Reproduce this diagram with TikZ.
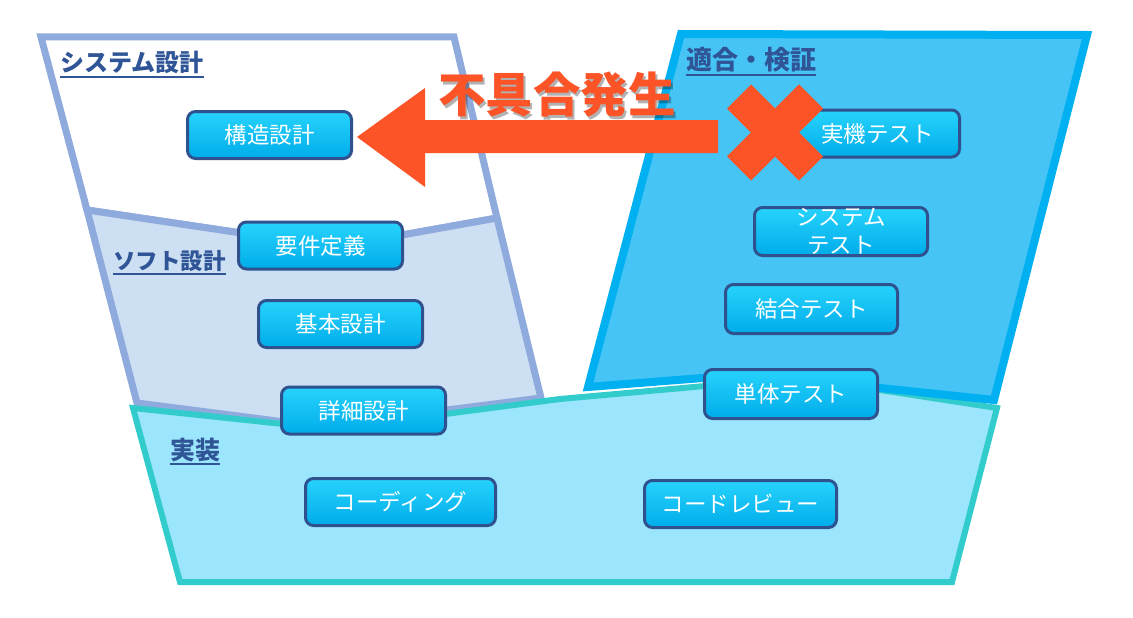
\documentclass[tikz,border=0pt]{standalone}
\usepackage{fontspec}
\setmainfont{Noto Sans CJK JP}
\usetikzlibrary{calc, positioning}

\definecolor{panelline}{HTML}{8FAADC}
\definecolor{softfill}{HTML}{CDE0F3}
\definecolor{implline}{HTML}{33CCCC}
\definecolor{implfill}{HTML}{9BE5FD}
\definecolor{testline}{HTML}{00B0F0}
\definecolor{testfill}{HTML}{45C4F5}
\definecolor{boxline}{HTML}{2F528F}
\definecolor{boxtop}{HTML}{27D3FC}
\definecolor{boxbottom}{HTML}{00ACE9}
\definecolor{labelblue}{HTML}{2F5597}
\definecolor{alert}{HTML}{FC5427}

\begin{document}
\begin{tikzpicture}[x=1pt, y=-1pt,
  stage/.style={draw=boxline, line width=3pt, rounded corners=8pt,
    top color=boxtop, bottom color=boxbottom, text=white,
    font=\fontsize{22.5}{28}\selectfont, inner sep=0pt, align=center,
    minimum width=164pt, minimum height=47pt},
  phasename/.style={text=labelblue, inner sep=0pt, anchor=base west},
  underbar/.style={labelblue, line width=1.6pt},
]
\useasboundingbox (0,0) rectangle (1133,618);

% System design area
\filldraw[draw=panelline, fill=white, line width=7pt]
  (41,37) -- (454,37) -- (497,218) -- (335,247) -- (87,210) -- cycle;
% Software design area
\filldraw[draw=panelline, fill=softfill, line width=7pt]
  (87,210) -- (335,247) -- (497,218) -- (541,398) -- (447,410) -- (285,422) -- (137,403) -- cycle;
% Implementation area
\filldraw[draw=implline, fill=implfill, line width=6pt]
  (133,408) -- (330,429) -- (560,399) -- (705,386) -- (880,390) -- (997,408) -- (952,582) -- (180,582) -- cycle;
% Test area
\filldraw[draw=testline, fill=testfill, line width=8pt]
  (681,34) -- (1087,35) -- (994,400) -- (880,388) -- (703,378) -- (588,387) -- cycle;

% Area names
\node[phasename, font=\fontsize{24}{24}\selectfont\bfseries] (sysname) at (60,72) {システム設計};
\draw[underbar] ($(sysname.base west)+(0,5)$) -- ($(sysname.base east)+(0,5)$);
\node[phasename, font=\fontsize{22.5}{24}\selectfont\bfseries] (softname) at (113,269) {ソフト設計};
\draw[underbar] ($(softname.base west)+(0,5)$) -- ($(softname.base east)+(0,5)$);
\node[phasename, font=\fontsize{25}{24}\selectfont\bfseries] (implname) at (170,459) {実装};
\draw[underbar] ($(implname.base west)+(0,5)$) -- ($(implname.base east)+(0,5)$);
\node[phasename, font=\fontsize{26}{24}\selectfont\bfseries] (testname) at (686,70) {適合・検証};
\draw[underbar] ($(testname.base west)+(0,5)$) -- ($(testname.base east)+(0,5)$);

% Work items
\node[stage] (kozo) at (269.5,135) {構造設計};
\node[stage] (yoken) at (320.5,245.5) {要件定義};
\node[stage] (kihon) at (340.5,324) {基本設計};
\node[stage] (shosai) at (363.5,410.5) {詳細設計};
\node[stage] (jikki) at (877.5,133.5) {実機テスト};
\node[stage, minimum width=173pt, minimum height=48pt] (systest) at (841,231.5) {システム\\テスト};
\node[stage, minimum width=172pt, minimum height=49pt] (ketsugo) at (811.5,309) {結合テスト};
\node[stage, minimum width=173pt, minimum height=49pt] (tantai) at (791,394) {単体テスト};
\node[stage, minimum width=190pt] (coding) at (400.5,502) {コーディング};
\node[stage, minimum width=192pt] (review) at (740.5,504) {コードレビュー};

% Failure arrow back to the structure design
\fill[alert] ($(kozo.east)+(4,2)$) -- ++(68,-49) -- ++(0,32) -- ++(293,0)
  -- ++(0,33) -- ++(-293,0) -- ++(0,34) -- cycle;
\node[text=black, opacity=0.3, font=\fontsize{47.5}{48}\selectfont\bfseries] (failshadow) at (559,98) {不具合発生};
\node[text=alert, font=\fontsize{47.5}{48}\selectfont\bfseries] (fail) at (557,95) {不具合発生};

% Cross mark
\coordinate (cross) at (775,132.5);
\draw[alert, line width=34pt] ($(cross)+(-36,-36)$) -- ($(cross)+(36,36)$);
\draw[alert, line width=34pt] ($(cross)+(-36,36)$) -- ($(cross)+(36,-36)$);
\end{tikzpicture}
\end{document}
